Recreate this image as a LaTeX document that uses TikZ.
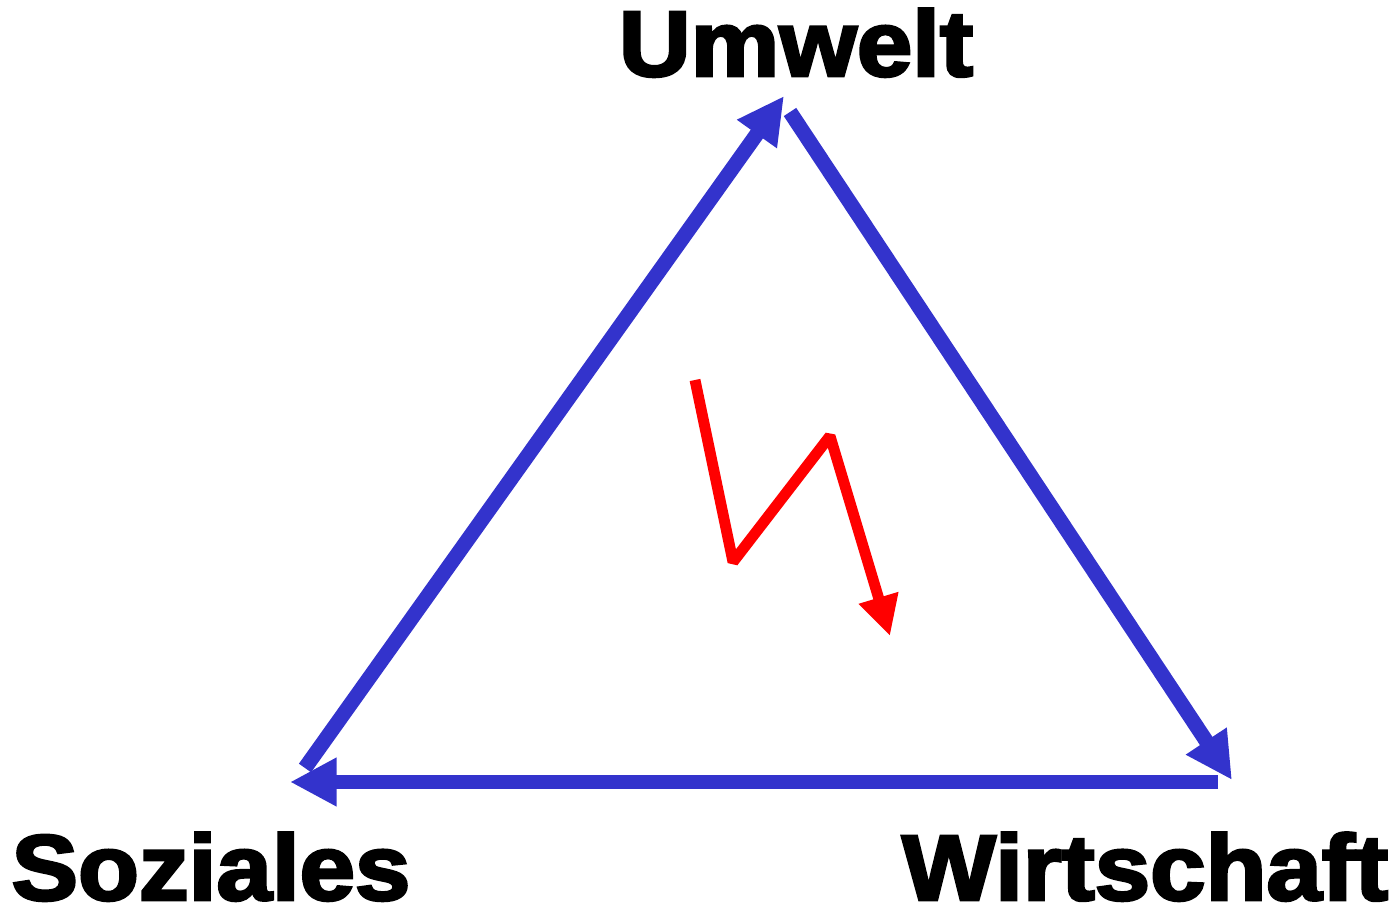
\documentclass[tikz,border=0pt]{standalone}
\usepackage{fontspec}
\newfontfamily\dick{Liberation Sans Bold}[FakeBold=3]
\usetikzlibrary{arrows.meta}
\definecolor{blau}{HTML}{3333CC}
\definecolor{rot}{HTML}{FF0000}
\begin{document}
\begin{tikzpicture}[x=0.02cm,y=-0.02cm]
% Styles
\tikzstyle{pfeil}=[draw=blau,line width=8.5pt,-{Triangle[length=26.6pt,width=26pt]}]
\tikzstyle{blitz}=[draw=rot,line width=6.2pt,line join=bevel,-{Triangle[length=22.7pt,width=22pt]}]
\tikzstyle{titel}=[anchor=base,inner sep=0pt,xscale=1.07,font=\dick\fontsize{53}{53}\selectfont]
% Rahmen
\useasboundingbox (0,0) rectangle (1399,911);
% Beschriftungen
\node[titel] (umwelt) at (796,76) {Umwelt};
\node[titel] (soziales) at (211,900) {Soziales};
\node[titel] (wirtschaft) at (1145,900) {Wirtschaft};
% Eckpunkte der Pfeile
\coordinate (SU) at (305,768);
\coordinate (US) at (784,96);
\coordinate (UW) at (790,112);
\coordinate (WU) at (1232,780);
\coordinate (WS) at (1218,782);
\coordinate (SW) at (290,782);
% Blitz
\coordinate (Ba) at (695,380);
\coordinate (Bb) at (733,562);
\coordinate (Bc) at (830,436);
\coordinate (Bd) at (890,636);
% Pfeile
\draw[pfeil] (SU)--(US);
\draw[pfeil] (UW)--(WU);
\draw[pfeil] (WS)--(SW);
\draw[blitz] (Ba)--(Bb)--(Bc)--(Bd);
\end{tikzpicture}
\end{document}
